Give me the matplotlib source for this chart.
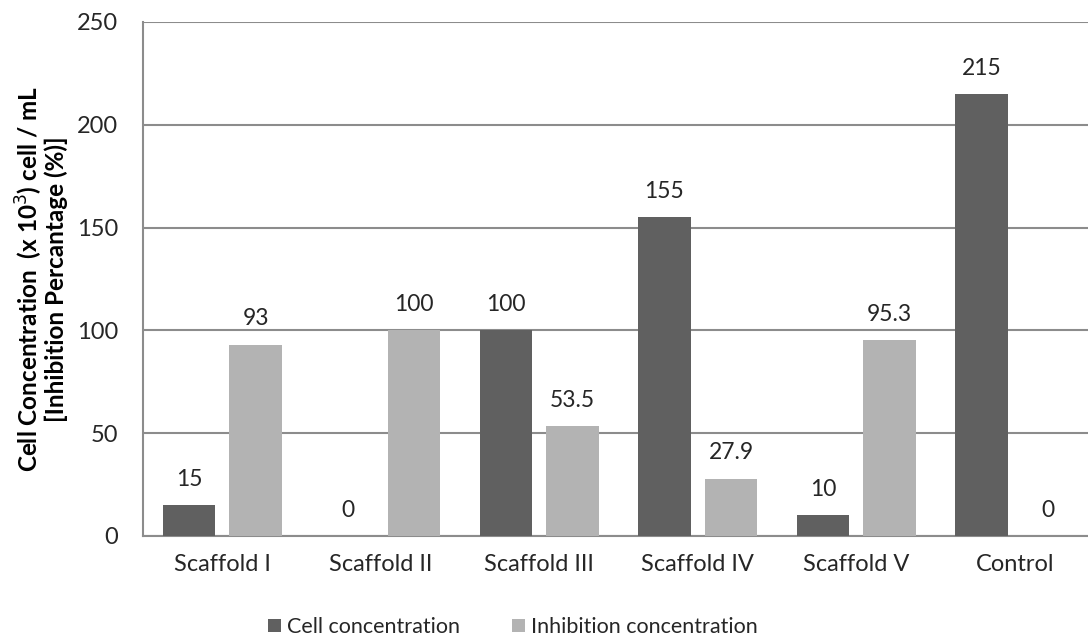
import matplotlib.pyplot as plt
import numpy as np

categories = ["Scaffold I", "Scaffold II", "Scaffold III", "Scaffold IV", "Scaffold V", "Control"]
cell_conc = [15, 0, 100, 155, 10, 215]
inhibition = [93, 100, 53.5, 27.9, 95.3, 0]
cell_labels = ["15", "0", "100", "155", "10", "215"]
inhib_labels = ["93", "100", "53.5", "27.9", "95.3", "0"]

dark = "#606060"
light = "#b3b3b3"
grid_c = "#8c8c8c"
text_c = "#262626"

plt.rcParams["font.family"] = ["Lato", "DejaVu Sans"]

fig = plt.figure(figsize=(10.88, 6.39), dpi=100)
ax = fig.add_axes([143 / 1088, 1 - 536 / 639, 945 / 1088, (536 - 22) / 639])

x = np.arange(len(categories))
w = 0.33
off = 0.21
b1 = ax.bar(x - off, cell_conc, w, color=dark, label="Cell concentration", zorder=3)
b2 = ax.bar(x + off, inhibition, w, color=light, label="Inhibition concentration", zorder=3)

for bars, labels in ((b1, cell_labels), (b2, inhib_labels)):
    for rect, lab in zip(bars, labels):
        ax.text(rect.get_x() + rect.get_width() / 2, rect.get_height() + 7.5, lab,
                ha="center", va="bottom", fontsize=16.5, color=text_c)

ax.set_xlim(-0.5, -0.5 + 945 / 158.5)
ax.set_ylim(0, 250)
ax.set_yticks(np.arange(0, 251, 50))
ax.yaxis.grid(True, color=grid_c, linewidth=1.5, zorder=0)
ax.set_axisbelow(True)
ax.tick_params(axis="y", length=0, labelsize=17, colors=text_c, pad=18)
ax.tick_params(axis="x", length=0, labelsize=17, colors=text_c, pad=13)
ax.set_xticks(x)
ax.set_xticklabels(categories)

for s in ("top", "right"):
    ax.spines[s].set_visible(False)
ax.spines["left"].set_color(grid_c)
ax.spines["left"].set_linewidth(1.5)
ax.spines["bottom"].set_color(grid_c)
ax.spines["bottom"].set_linewidth(1.5)

ax.set_ylabel("Cell Concentration  (x 10$^3$) cell / mL\n[Inhibition Percantage (%)]",
              fontsize=17.5, fontweight="bold", color="black", labelpad=6, linespacing=1.0)

fig.legend(handles=[b1, b2], loc="center", bbox_to_anchor=(513 / 1088, 1 - 627 / 639),
           ncol=2, frameon=False, fontsize=15.5, handlelength=0.6, handleheight=0.6,
           handletextpad=0.3, columnspacing=2.4, labelcolor=text_c)

fig.savefig("out.png", dpi=100)
